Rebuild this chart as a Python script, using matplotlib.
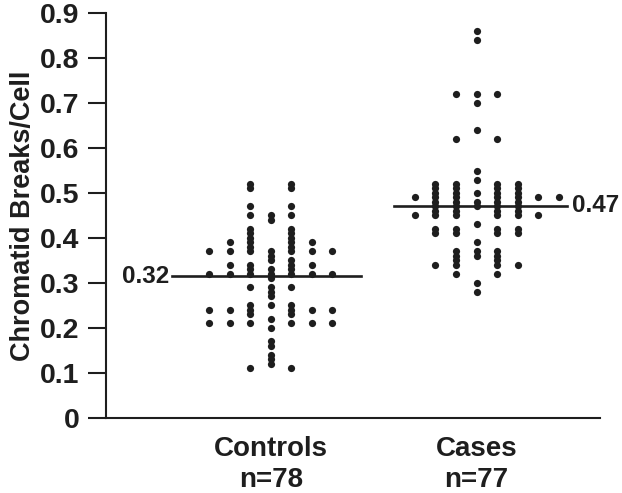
import numpy as np
import matplotlib
matplotlib.use("Agg")
import matplotlib.pyplot as plt

plt.rcParams['font.family'] = ['Liberation Sans', 'DejaVu Sans']
plt.rcParams['font.weight'] = 'bold'

# Group labels
groups = ["Controls\nn=78", "Cases\nn=77"]

# Column offsets (slot index) and dot values per column
controls_slots = [-3, -2, -1, 0, 1, 2, 3]
controls_vals = [
    [0.37, 0.32, 0.24, 0.21],
    [0.39, 0.37, 0.34, 0.32, 0.24, 0.21],
    [0.52, 0.51, 0.47, 0.45, 0.42, 0.41, 0.40, 0.39, 0.38, 0.37, 0.34, 0.33, 0.32,
     0.29, 0.25, 0.24, 0.23, 0.21, 0.11],
    [0.45, 0.44, 0.37, 0.36, 0.35, 0.33, 0.32, 0.31, 0.29, 0.28, 0.27, 0.25,
     0.22, 0.20, 0.17, 0.16, 0.14, 0.13, 0.12],
    [0.52, 0.51, 0.47, 0.45, 0.42, 0.41, 0.40, 0.39, 0.38, 0.37, 0.35, 0.34, 0.33, 0.32,
     0.29, 0.25, 0.24, 0.23, 0.21, 0.11],
    [0.39, 0.37, 0.34, 0.32, 0.24, 0.21],
    [0.37, 0.32, 0.24, 0.21],
]

cases_slots = [-3, -2, -1, 0, 1, 2, 3, 4]
cases_vals = [
    [0.49, 0.45],
    [0.52, 0.51, 0.50, 0.49, 0.48, 0.47, 0.46, 0.45, 0.42, 0.41, 0.34],
    [0.72, 0.62, 0.52, 0.51, 0.50, 0.49, 0.48, 0.47, 0.46, 0.45, 0.42, 0.41,
     0.37, 0.36, 0.35, 0.34, 0.32],
    [0.86, 0.84, 0.72, 0.70, 0.64, 0.55, 0.53, 0.50, 0.48, 0.47, 0.43, 0.39,
     0.37, 0.36, 0.30, 0.28],
    [0.72, 0.62, 0.52, 0.51, 0.50, 0.49, 0.48, 0.47, 0.46, 0.45, 0.42, 0.41,
     0.37, 0.36, 0.35, 0.34, 0.32],
    [0.52, 0.51, 0.50, 0.49, 0.48, 0.47, 0.46, 0.45, 0.42, 0.41, 0.34],
    [0.49, 0.45],
    [0.49],
]

# Group means (line position and printed label)
mean_vals = [0.315, 0.472]
mean_labels = ["0.32", "0.47"]

ink = '#1e1e1e'

fig = plt.figure(figsize=(6.22, 4.93), dpi=100)
ax = fig.add_axes([0.170, 0.153, 0.794, 0.820])

step = 0.1
for gx, slots, vals in [(1, controls_slots, controls_vals), (2, cases_slots, cases_vals)]:
    for s, col in zip(slots, vals):
        ax.scatter(np.full(len(col), gx + s * step), col, s=27, color=ink, linewidths=0, zorder=3)

# mean lines with labels
ax.plot([0.52, 1.44], [mean_vals[0]] * 2, color=ink, lw=1.9, zorder=2)
ax.text(0.505, mean_vals[0], mean_labels[0], ha='right', va='center', fontsize=17.5,
        fontweight='bold', color=ink)
ax.plot([1.60, 2.44], [mean_vals[1]] * 2, color=ink, lw=1.9, zorder=2)
ax.text(2.465, mean_vals[1], mean_labels[1], ha='left', va='center', fontsize=17.5,
        fontweight='bold', color=ink)

ax.set_xlim(0.199, 2.597)
ax.set_ylim(0, 0.9)
ax.set_yticks(np.arange(0, 0.91, 0.1))
ax.set_yticklabels(['0'] + ['%.1f' % v for v in np.arange(0.1, 0.91, 0.1)], fontweight='bold')
ax.set_xticks([1, 2])
ax.set_xticklabels(groups, fontsize=20, fontweight='bold', linespacing=1.25)
ax.tick_params(axis='x', length=0, pad=13, colors=ink)
ax.tick_params(axis='y', length=13, width=1.5, pad=6, labelsize=20.5, colors=ink)
ax.set_ylabel("Chromatid Breaks/Cell", fontsize=19.5, fontweight='bold', color=ink, labelpad=3)

for side in ['top', 'right']:
    ax.spines[side].set_visible(False)
for side in ['left', 'bottom']:
    ax.spines[side].set_linewidth(1.5)
    ax.spines[side].set_color(ink)

fig.savefig("out.png", dpi=100)
